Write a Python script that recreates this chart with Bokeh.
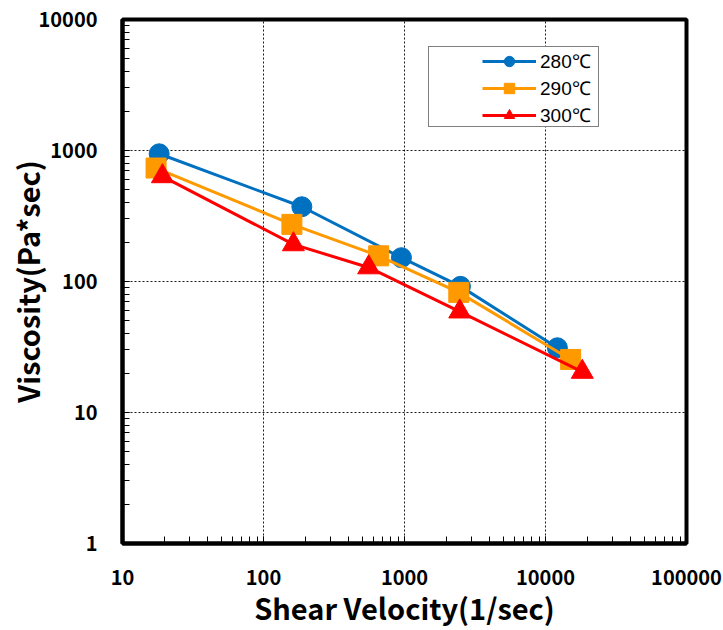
from bokeh.plotting import figure
from bokeh.models import Legend, LegendItem, NumeralTickFormatter
from bokeh.embed import file_html
from bokeh.resources import INLINE

# Data
labels = ["280℃", "290℃", "300℃"]
shear_280 = [18.2, 187, 951, 2494, 12140]
visc_280 = [944, 372, 152, 91.8, 31.2]
shear_290 = [17.3, 159, 656, 2427, 15070]
visc_290 = [735, 273, 157, 82.6, 25.4]
shear_300 = [19.2, 163, 557, 2465, 18240]
visc_300 = [635, 192, 128, 58.9, 20.4]

colors = ["#0070C0", "#FF9900", "#FF0000"]
markers = ["circle", "square", "triangle"]
FONT = "Noto Sans CJK JP"

p = figure(width=723, height=630, x_axis_type="log", y_axis_type="log",
           x_range=(10, 100000), y_range=(1, 10000),
           output_backend="svg", toolbar_location=None,
           min_border_left=122, min_border_right=37, min_border_top=19,
           min_border_bottom=84)

p.outline_line_color = "black"
p.outline_line_width = 4

for ax in (p.xaxis[0], p.yaxis[0]):
    ax.axis_line_width = 4
    ax.axis_line_color = "black"
    ax.major_tick_in = 0
    ax.major_tick_out = 0
    ax.minor_tick_in = 7
    ax.minor_tick_out = 0
    ax.minor_tick_line_width = 1
    ax.minor_tick_line_color = "black"
    ax.major_label_text_font = FONT
    ax.major_label_text_font_style = "bold"
    ax.major_label_text_font_size = "20px"
    ax.major_label_text_color = "black"
    ax.axis_label_text_font = FONT
    ax.axis_label_text_font_style = "bold"
    ax.axis_label_text_font_size = "29px"
    ax.axis_label_text_color = "black"
    ax.formatter = NumeralTickFormatter(format="0")

p.xaxis.axis_label = "Shear Velocity(1/sec)"
p.yaxis.axis_label = "Viscosity(Pa*sec)"
p.xaxis.major_label_standoff = 26
p.yaxis.major_label_standoff = 25
p.xaxis.axis_label_standoff = -2
p.yaxis.axis_label_standoff = -12

for g in (p.xgrid[0], p.ygrid[0]):
    g.grid_line_color = "black"
    g.grid_line_width = 1
    g.grid_line_dash = "2 2"
    g.grid_line_alpha = 0.9

# legend frame (drawn as an empty legend box)
dummy = p.scatter(x=[], y=[], alpha=0)
frame_leg = Legend(items=[LegendItem(label=" ", renderers=[dummy])],
                   location=(306, 416))
frame_leg.padding = 0
frame_leg.margin = 0
frame_leg.glyph_width = 169
frame_leg.glyph_height = 79
frame_leg.label_standoff = 0
frame_leg.label_width = 0
frame_leg.label_height = 0
frame_leg.label_text_font_size = "1px"
frame_leg.border_line_color = "black"
frame_leg.border_line_width = 1
frame_leg.background_fill_color = "white"
frame_leg.background_fill_alpha = 1
p.add_layout(frame_leg, "center")

series = [(shear_280, visc_280), (shear_290, visc_290), (shear_300, visc_300)]
items = []
for (xs, ys), c, m, lab in zip(series, colors, markers, labels):
    r1 = p.line(xs, ys, line_color=c, line_width=3)
    r2 = p.scatter(xs, ys, marker=m, size=20 if m != "triangle" else 22,
                   fill_color=c, line_color=c)
    items.append(LegendItem(label=lab, renderers=[r1, r2]))

legend = Legend(items=items, location=(357, 412))
legend.border_line_alpha = 0
legend.background_fill_alpha = 0
legend.label_text_font = "Liberation Sans"
legend.label_text_font_size = "19px"
legend.label_text_color = "black"
legend.glyph_width = 54
legend.glyph_height = 26
legend.label_height = 26
legend.spacing = 1
legend.padding = 3
legend.margin = 0
legend.label_standoff = 4
p.add_layout(legend, "center")

open("out.html", "w").write(file_html(p, INLINE))
